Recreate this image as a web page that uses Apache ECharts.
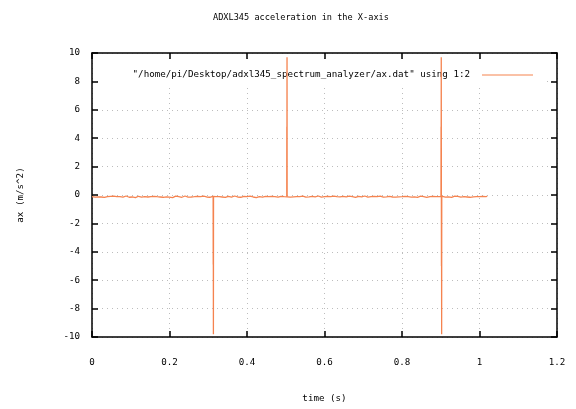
<!DOCTYPE html>
<html>
<head>
<meta charset="utf-8">
<script src="https://cdn.jsdelivr.net/npm/echarts@6/dist/echarts.min.js"></script>
<style>
  html, body { margin: 0; padding: 0; background: #fff; }
  #chart { width: 576px; height: 409px; }
</style>
</head>
<body>
<div id="chart"></div>
<script>
// ADXL345 X-axis acceleration log: one sample every 4 ms, starting at t = 0
const sampleStep = 0.004;
const baseline = [
  -0.12,-0.08,-0.15,-0.10,-0.13,-0.06,-0.14,-0.11,-0.17,-0.09,-0.12,-0.16,-0.10,-0.13,-0.08,-0.14,
  -0.11,-0.18,-0.12,-0.09,-0.15,-0.13,-0.07,-0.12,-0.16,-0.10,-0.14,-0.11,-0.19,-0.12,-0.09,-0.13,
  -0.15,-0.10,-0.12,-0.08,-0.14,-0.17,-0.11,-0.13,-0.09,-0.15,-0.12,-0.06,-0.14,-0.11,-0.16,-0.10,
  -0.13,-0.09,-0.15,-0.12,-0.18,-0.11,-0.08,-0.14,-0.12,-0.10,-0.16,-0.13,-0.07,-0.12,-0.15,-0.11,
  -0.14,-0.10,-0.12,-0.17,-0.09,-0.13,-0.11,-0.15,-0.08,-0.12,-0.14,-0.10,-0.16,-0.12,-0.09,-0.13,
  -0.11,-0.15,-0.12,-0.08,-0.14,-0.10,-0.17,-0.12,-0.09,-0.13,-0.15,-0.11,-0.07,-0.12,-0.14,-0.10,
  -0.16,-0.12,-0.09,-0.13,-0.11,-0.15,-0.08,-0.12,-0.14,-0.10,-0.18,-0.13,-0.11,-0.09,-0.15,-0.12,
  -0.10,-0.14,-0.12,-0.16,-0.09,-0.13,-0.11,-0.07,-0.15,-0.12,-0.10,-0.14,-0.12,-0.08,-0.13,-0.11,
  -0.15,-0.10,-0.13,-0.09,-0.12,-0.17,-0.11,-0.14,-0.08,-0.12,-0.15,-0.10,-0.13,-0.16,-0.09,-0.12,
  -0.14,-0.11,-0.07,-0.13,-0.15,-0.10,-0.12,-0.18,-0.09,-0.14,-0.11,-0.13,-0.08,-0.15,-0.12,-0.10,
  -0.13,-0.16,-0.09,-0.12,-0.14,-0.11,-0.08,-0.15,-0.12,-0.10,-0.17,-0.13,-0.09,-0.12,-0.14,-0.11,
  -0.07,-0.13,-0.15,-0.10,-0.12,-0.16,-0.09,-0.14,-0.11,-0.13,-0.08,-0.12,-0.15,-0.10,-0.13,-0.17,
  -0.10,-0.12,-0.14,-0.09,-0.15,-0.11,-0.13,-0.07,-0.12,-0.16,-0.10,-0.14,-0.12,-0.09,-0.15,-0.11,
  -0.13,-0.10,-0.16,-0.12,-0.08,-0.14,-0.11,-0.13,-0.17,-0.09,-0.12,-0.15,-0.10,-0.18,-0.12,-0.16,
  -0.11,-0.14,-0.10,-0.12,-0.15,-0.09,-0.13,-0.11,-0.16,-0.12,-0.08,-0.14,-0.10,-0.13,-0.15,-0.11,
  -0.12,-0.09,-0.14,-0.11,-0.16,-0.10,-0.13,-0.08,-0.12,-0.15,-0.11,-0.13,-0.09,-0.14,-0.12,-0.10
];

// Shock readings captured between the regular samples: [time (s), acceleration (m/s^2)]
const shockDown = [[0.3126, -0.12], [0.3128, -4.9], [0.3130, -0.3], [0.3133, -9.8], [0.3136, -0.1]];
const shockUp = [[0.5026, -0.12], [0.5028, 4.8], [0.5030, 0.0], [0.5033, 9.7], [0.5036, -0.1]];
const shockBoth = [[0.9006, -0.12], [0.9008, 4.8], [0.9010, 0.0], [0.9013, 9.7], [0.9016, -0.1],
                   [0.9018, -5.0], [0.9020, -0.3], [0.9023, -9.8], [0.9026, -0.1]];

const xTickLabels = ['0', '0.2', '0.4', '0.6', '0.8', '1', '1.2'];
const yTickLabels = ['-10', '-8', '-6', '-4', '-2', '0', '2', '4', '6', '8', '10'];

const seriesName = '"/home/pi/Desktop/adxl345_spectrum_analyzer/ax.dat" using 1:2';
const lineColor = '#f5834f';
const monoFont = '"DejaVu Sans Mono", "Liberation Mono", monospace';

const basePoints = baseline.map((v, i) => [+(i * sampleStep).toFixed(4), v]);

const axisLineStyle = { color: '#000', width: 1.5 };
const tickStyle = { show: true, inside: true, length: 6, lineStyle: { color: '#000', width: 1.5 } };
const gridStyle = { show: true, lineStyle: { color: '#bdbdbd', width: 1, type: [1, 4] } };

const xBase = {
  type: 'value', min: 0, max: 1.2, interval: 0.2,
  axisLine: { show: true, onZero: false, lineStyle: axisLineStyle },
  axisTick: tickStyle
};
const yBase = {
  type: 'value', min: -10, max: 10, interval: 2,
  axisLine: { show: true, onZero: false, lineStyle: axisLineStyle },
  axisTick: tickStyle
};

// The regular trace and each shock burst share one name and colour, so the key shows one entry
function traceSeries(data) {
  return {
    name: seriesName,
    type: 'line',
    xAxisIndex: 0, yAxisIndex: 0,
    data: data,
    showSymbol: false,
    symbol: 'none',
    sampling: null,
    lineStyle: { color: lineColor, width: 1.3, join: 'bevel', cap: 'butt' },
    itemStyle: { color: lineColor },
    z: 2
  };
}

const chart = echarts.init(document.getElementById('chart'), null, { renderer: 'canvas' });
chart.setOption({
  animation: false,
  backgroundColor: '#fff',
  title: {
    text: 'ADXL345 acceleration in the X-axis',
    left: 208, top: 8,
    textStyle: { fontFamily: monoFont, fontSize: 8.6, fontWeight: 'normal', color: '#000' }
  },
  grid: { left: 92, right: 19, top: 53, bottom: 72, containLabel: false },
  legend: {
    data: [seriesName],
    right: 32, top: 61,
    padding: [7, 11, 6, 33],
    backgroundColor: '#fff',
    z: 1,
    icon: 'rect', itemWidth: 51, itemHeight: 1,
    itemStyle: { color: lineColor },
    textStyle: { fontFamily: monoFont, fontSize: 9.2, color: '#000', padding: [0, 7, 0, 0], lineHeight: 14 },
    align: 'right',
    selectedMode: false
  },
  xAxis: [
    Object.assign({}, xBase, {
      position: 'bottom',
      name: 'time (s)', nameLocation: 'middle', nameGap: 57,
      nameTextStyle: { fontFamily: monoFont, fontSize: 9.2, color: '#000' },
      axisLabel: {
        margin: 21, color: '#000', fontFamily: monoFont, fontSize: 9.2,
        formatter: v => xTickLabels[Math.round(v / 0.2)]
      },
      splitLine: gridStyle
    }),
    Object.assign({}, xBase, {
      position: 'top', axisLabel: { show: false }, splitLine: { show: false }
    })
  ],
  yAxis: [
    Object.assign({}, yBase, {
      position: 'left',
      name: 'ax (m/s^2)', nameLocation: 'middle', nameGap: 67,
      nameTextStyle: { fontFamily: monoFont, fontSize: 9.2, color: '#000' },
      axisLabel: {
        margin: 12, color: '#000', fontFamily: monoFont, fontSize: 9.2,
        formatter: v => yTickLabels[Math.round((v + 10) / 2)]
      },
      splitLine: gridStyle
    }),
    Object.assign({}, yBase, {
      position: 'right', axisLabel: { show: false }, splitLine: { show: false }
    })
  ],
  series: [
    traceSeries(basePoints),
    traceSeries(shockDown),
    traceSeries(shockUp),
    traceSeries(shockBoth)
  ]
});
</script>
</body>
</html>
